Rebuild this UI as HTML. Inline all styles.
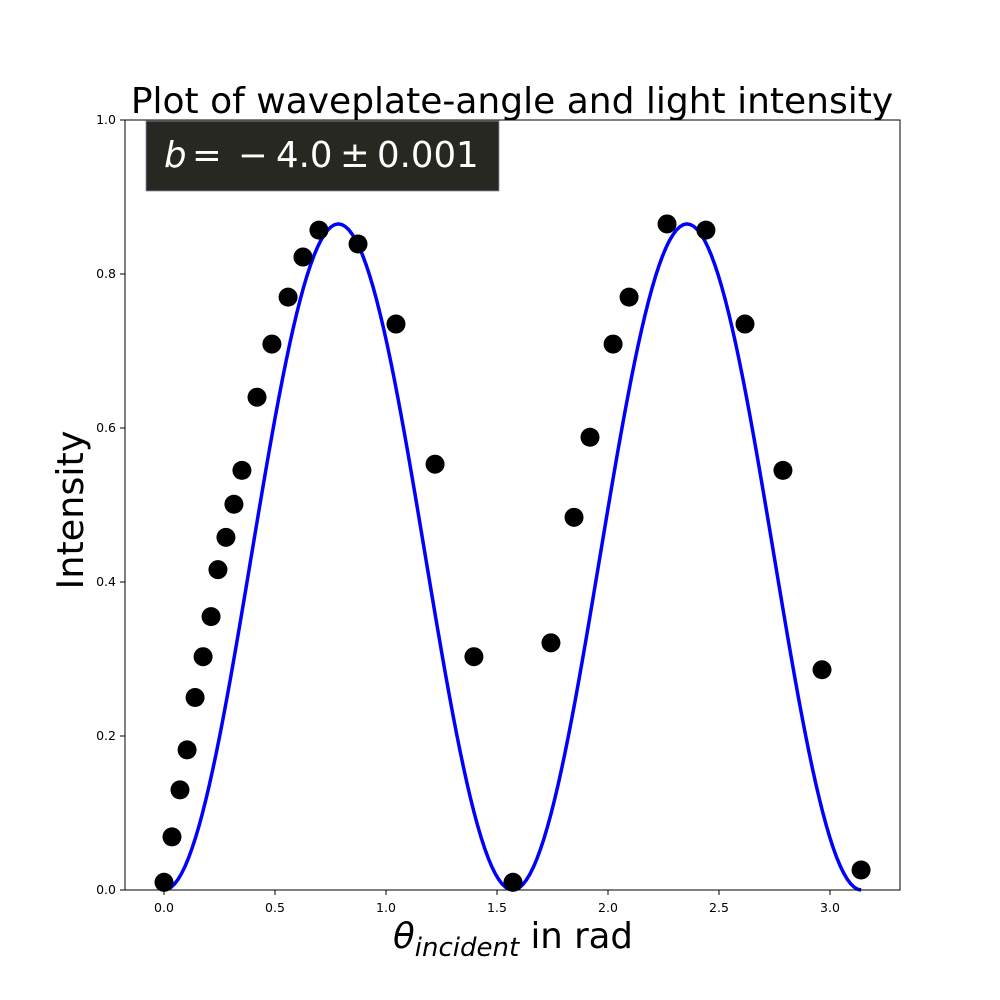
<!DOCTYPE html>
<html><head><meta charset="utf-8"><style>
body{margin:0;background:#fff;}
svg{display:block;font-family:"DejaVu Sans","Liberation Sans",sans-serif;}
</style></head><body>
<svg id="chart" width="1000" height="1000">
<rect x="0" y="0" width="1000" height="1000" fill="#fff"/>
<text x="512" y="113" font-size="36" text-anchor="middle">Plot of waveplate-angle and light intensity</text>
<g id="plot"></g>
<rect x="125" y="120" width="775" height="770" fill="none" stroke="#000" stroke-width="1"/>
<rect x="146" y="121" width="353" height="70" fill="#272822" stroke="#8890a0" stroke-width="0.8"/>
<text y="167" font-size="35.5" fill="#fff"><tspan x="164" font-style="italic">b</tspan><tspan x="192">=</tspan><tspan x="238">−</tspan><tspan x="276">4.0</tspan><tspan x="340">±</tspan><tspan x="377">0.001</tspan></text>
<text transform="translate(83,510) rotate(-90)" font-size="36.5" text-anchor="middle">Intensity</text>
<text x="513" y="948" font-size="35.5" text-anchor="middle"><tspan font-style="italic">θ</tspan><tspan font-style="italic" font-size="26" dy="8">incident</tspan><tspan dy="-8"> in rad</tspan></text>
</svg>
<script>
const xVals=[0,0.036,0.072,0.104,0.14,0.176,0.212,0.243,0.279,0.315,0.351,0.419,0.486,0.559,0.626,0.698,0.874,1.045,1.221,1.396,1.572,1.743,1.847,1.919,2.023,2.095,2.266,2.441,2.617,2.788,2.964,3.14];
const yVals=[0.01,0.069,0.13,0.182,0.25,0.303,0.355,0.416,0.458,0.501,0.545,0.64,0.709,0.77,0.822,0.857,0.839,0.735,0.553,0.303,0.01,0.321,0.484,0.588,0.709,0.77,0.865,0.857,0.735,0.545,0.286,0.026];
const fitAmp=0.865;
const fitFreq=2.0;
const fitRange=[0,3.14];
const xTicks=[0,0.5,1.0,1.5,2.0,2.5,3.0];
const xTickLabels=["0.0","0.5","1.0","1.5","2.0","2.5","3.0"];
const yTicks=[0,0.2,0.4,0.6,0.8,1.0];
const yTickLabels=["0.0","0.2","0.4","0.6","0.8","1.0"];
const NS="http://www.w3.org/2000/svg";
const X=v=>164+v*222;
const Y=v=>890-v*770;
const g=document.getElementById('plot');
function mk(t,a){const e=document.createElementNS(NS,t);for(const k in a)e.setAttribute(k,a[k]);g.appendChild(e);return e;}
xTicks.forEach((t,i)=>{
 const l=mk('line',{x1:X(t),x2:X(t),y1:890,y2:895,stroke:'#000'});
 
 
 const tx=mk('text',{x:X(t),y:912,'font-size':12.5,'text-anchor':'middle'});
 tx.textContent=xTickLabels[i];
 
 
});
yTicks.forEach((t,i)=>{
 const l=mk('line',{x1:120,x2:125,y1:Y(t),y2:Y(t),stroke:'#000'});
 
 
 const tx=mk('text',{x:116,y:Y(t)+4,'font-size':12.5,'text-anchor':'end'});
 tx.textContent=yTickLabels[i];
 
 
});
let d='';
for(let i=0;i<=200;i++){const x=fitRange[0]+(fitRange[1]-fitRange[0])*i/200;const y=fitAmp*Math.pow(Math.sin(fitFreq*x),2);d+=(i?'L':'M')+X(x).toFixed(2)+' '+Y(y).toFixed(2);}
const p=mk('path',{d:d,fill:'none',stroke:'#0000ff','stroke-width':3.5});


xVals.forEach((x,i)=>{
 const c=mk('circle',{cx:X(x),cy:Y(yVals[i]),r:9.5,fill:'#000'});
 
 
});
</script>
</body></html>
